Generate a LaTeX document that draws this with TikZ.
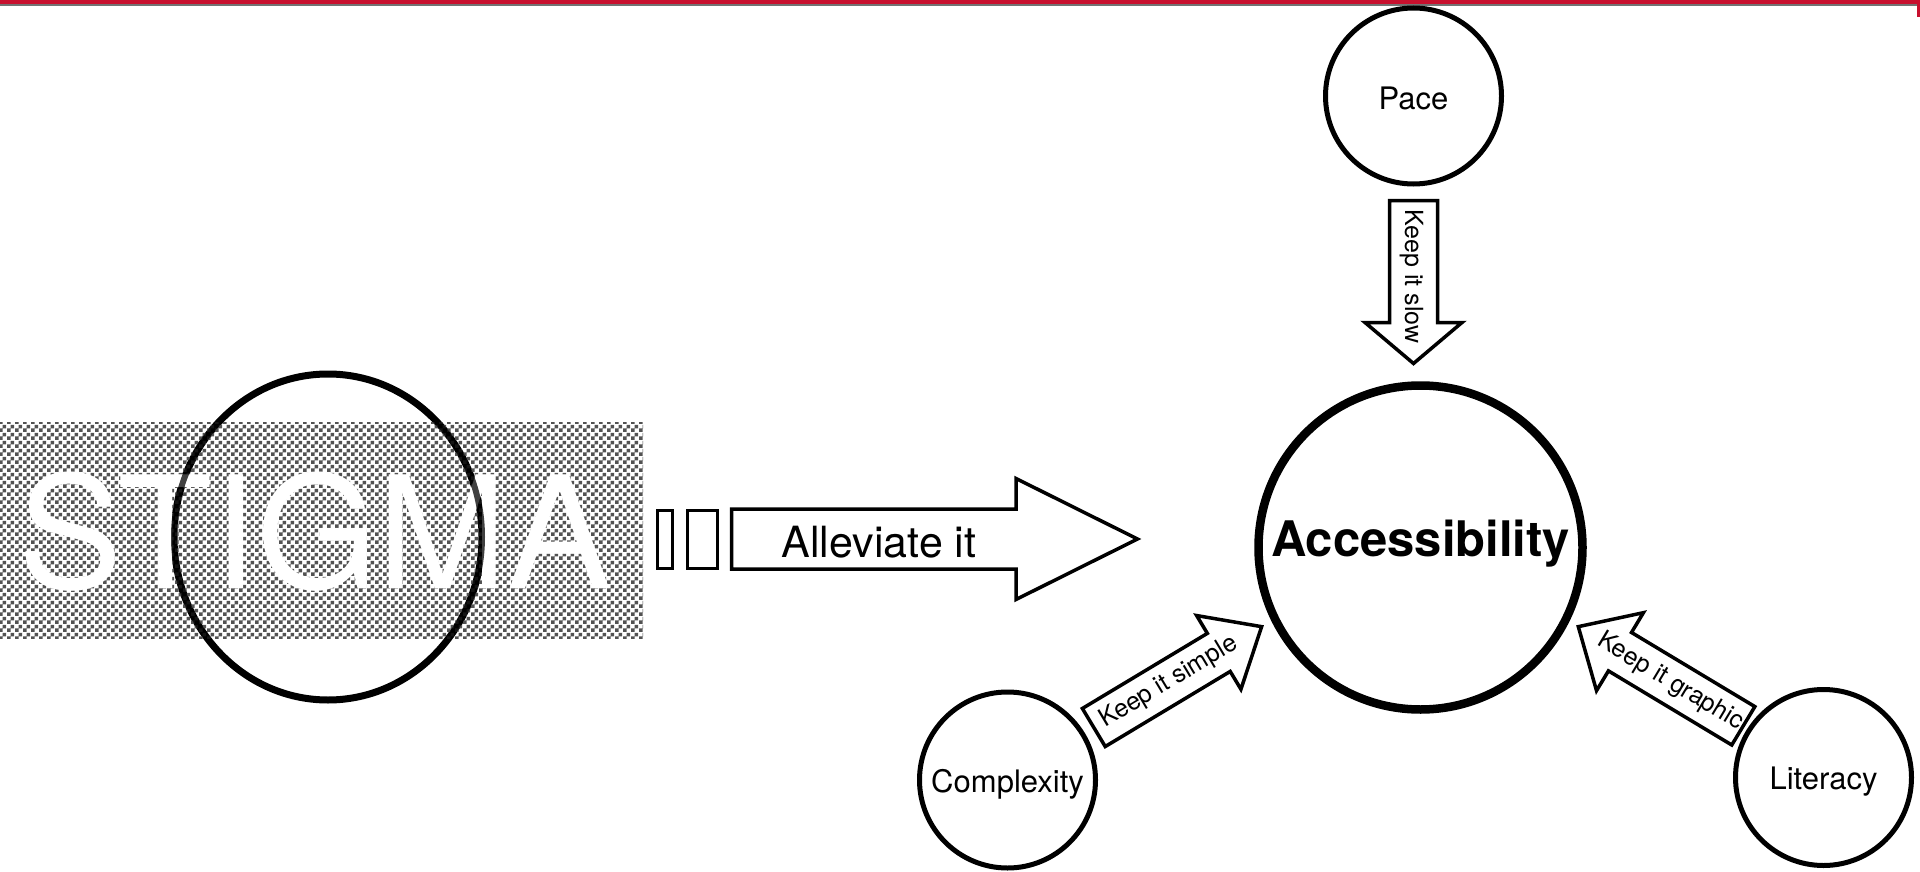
\documentclass[tikz,border=0pt]{standalone}
\usepackage{fontspec}
\setmainfont{TeX Gyre Heros}
\usetikzlibrary{patterns,shapes.geometric,calc}
\pgfdeclarepatternformonly{stigmacheck}{\pgfpointorigin}{\pgfqpoint{8pt}{8pt}}{\pgfqpoint{8pt}{8pt}}{%
  \pgfpathrectangle{\pgfpointorigin}{\pgfqpoint{4pt}{4pt}}%
  \pgfpathrectangle{\pgfqpoint{4pt}{4pt}}{\pgfqpoint{4pt}{4pt}}%
  \pgfusepath{fill}}
\definecolor{barred}{RGB}{200,16,46}
\tikzset{
  topic/.style={draw, circle, line width=5pt, minimum size=176pt, inner sep=0pt,
    font=\fontsize{31}{31}\selectfont, text height=24pt, text depth=0pt},
  hub/.style={draw, circle, line width=8.5pt, minimum size=324pt, inner sep=0pt,
    font=\bfseries\fontsize{49}{49}\selectfont, text height=35pt, text depth=17pt},
  arrowline/.style={draw=black, fill=white, line width=3.5pt, line join=miter},
  arrowlabel/.style={inner sep=0pt, font=\fontsize{25}{25}\selectfont},
  tofu/.style={draw=black, line width=3pt},
  pics/fatarrow/.style args={#1/#2/#3/#4}{code={
    \draw[arrowline] (0,-#2) -- (#1-#4,-#2) -- (#1-#4,-#3) -- (#1,0)
      -- (#1-#4,#3) -- (#1-#4,#2) -- (0,#2) -- cycle;
  }}
}
\begin{document}
\begin{tikzpicture}[x=1pt,y=-1pt]
\useasboundingbox (0,0) rectangle (1920,872);
\fill[white] (0,0) rectangle (1920,872);
% top bar
\fill[barred] (0,0) rectangle (1920,4);
\fill[black!55] (0,4) rectangle (1920,6);
\fill[barred] (1917,0) rectangle (1920,17);

% STIGMA block
\node[draw, ellipse, line width=7pt, minimum width=308pt, minimum height=326pt, inner sep=0pt] (stigmaring) at (328,537) {};
\fill[pattern=stigmacheck, pattern color=black!68] (0,422) rectangle (643,638);
\node[anchor=base, inner sep=0pt, text=white, font=\fontsize{156}{156}\selectfont] (stigma) at (315,588) {STIGMA};
\begin{scope}
  \clip (0,422) rectangle (643,638);
  \draw[line width=6pt, opacity=0.75] (stigmaring.center) ellipse (154 and 163);
\end{scope}

% missing-glyph boxes
\draw[tofu] (657,510) rectangle (672,568);
\draw[tofu] (687,510) rectangle (717,568);

% nodes
\node[hub] (acc) at (1420.5,547.5) {Accessibility};
\node[topic, text height=28pt] (pace) at (1413.5,96) {Pace};
\node[topic] (cx) at (1007.5,780) {Complexity};
\node[topic] (lit) at (1823.5,777.5) {Literacy};

% connectors
\coordinate (alTail) at (731.5,539);
\pic at (alTail) {fatarrow=406/30/60.5/121.5};
\node[inner sep=0pt, font=\fontsize{43}{43}\selectfont] (allab) at (879,542) {Alleviate it};

\coordinate (slowTail) at ($(pace.south)+(0,14)$);
\pic[rotate=-90] at (slowTail) {fatarrow=163/24/48.5/41};
\node[arrowlabel, rotate=-90] (slowlab) at ($(slowTail)+(-2,76)$) {Keep it slow};

\coordinate (simpleTail) at ($(cx.center)+(86.3,-52.5)$);
\pic[rotate=31] at (simpleTail) {fatarrow=195.8/22.2/43/50};
\node[arrowlabel, rotate=31] (simplelab) at ($(simpleTail)+(75.4,-45.3)$) {Keep it simple};

\coordinate (graphicTail) at ($(lit.center)+(-80.2,-51.7)$);
\pic[rotate=149] at (graphicTail) {fatarrow=192.5/22.4/45.5/48.6};
\node[arrowlabel, rotate=-31] (graphiclab) at ($(graphicTail)+(-72.9,-43.8)$) {Keep it graphic};
\end{tikzpicture}
\end{document}
